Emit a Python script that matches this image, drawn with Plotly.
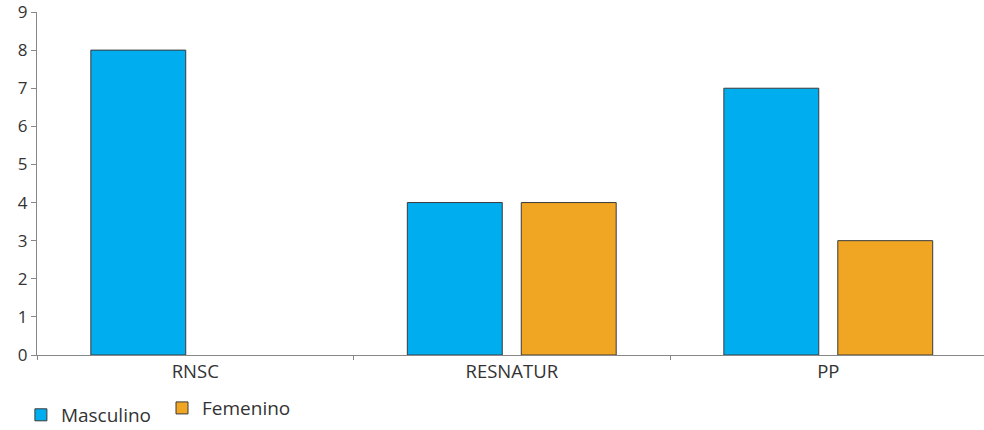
import plotly.graph_objects as go

categories = ["RNSC", "RESNATUR", "PP"]
masculino = [8, 4, 7]
femenino = [None, 4, 3]

blue = "#00AEEF"
orange = "#F0A523"
edge = "#3a3a3a"
text_color = "#333333"

fig = go.Figure()
fig.add_trace(go.Bar(
    x=categories, y=masculino, name="Masculino",
    marker=dict(color=blue, line=dict(color=edge, width=1)),
    legend="legend", showlegend=True,
))
fig.add_trace(go.Bar(
    x=categories, y=femenino, name="Femenino",
    marker=dict(color=orange, line=dict(color=edge, width=1)),
    legend="legend2", showlegend=True,
))

fig.update_layout(
    width=984, height=430,
    margin=dict(l=37, r=0, t=12, b=75, autoexpand=False),
    paper_bgcolor="white", plot_bgcolor="white",
    showlegend=True,
    barmode="group", bargap=0.28, bargroupgap=0.167,
    font=dict(family="Open Sans", size=16, color=text_color),
    legend=dict(
        x=-0.017, y=0.035, yref="container", xanchor="left", yanchor="middle",
        orientation="h", font=dict(size=19), bgcolor="rgba(0,0,0,0)",
    ),
    legend2=dict(
        x=0.132, y=0.051, yref="container", xanchor="left", yanchor="middle",
        orientation="h", font=dict(size=19), bgcolor="rgba(0,0,0,0)",
    ),
)
fig.update_xaxes(
    range=[-0.5, 2.492],
    showline=True, linecolor="#888888", linewidth=1,
    ticks="outside", tickson="boundaries", ticklen=4, tickcolor="#888888",
    showgrid=False, tickfont=dict(size=18.5, color=text_color),
)
fig.update_yaxes(
    range=[0, 9], dtick=1, showline=True, linecolor="#888888", linewidth=1,
    ticks="outside", ticklen=5, tickcolor="#888888", ticklabeloverflow="allow",
    showgrid=False, zeroline=False, tickfont=dict(size=17, color=text_color),
)

fig.write_html("out.html")
